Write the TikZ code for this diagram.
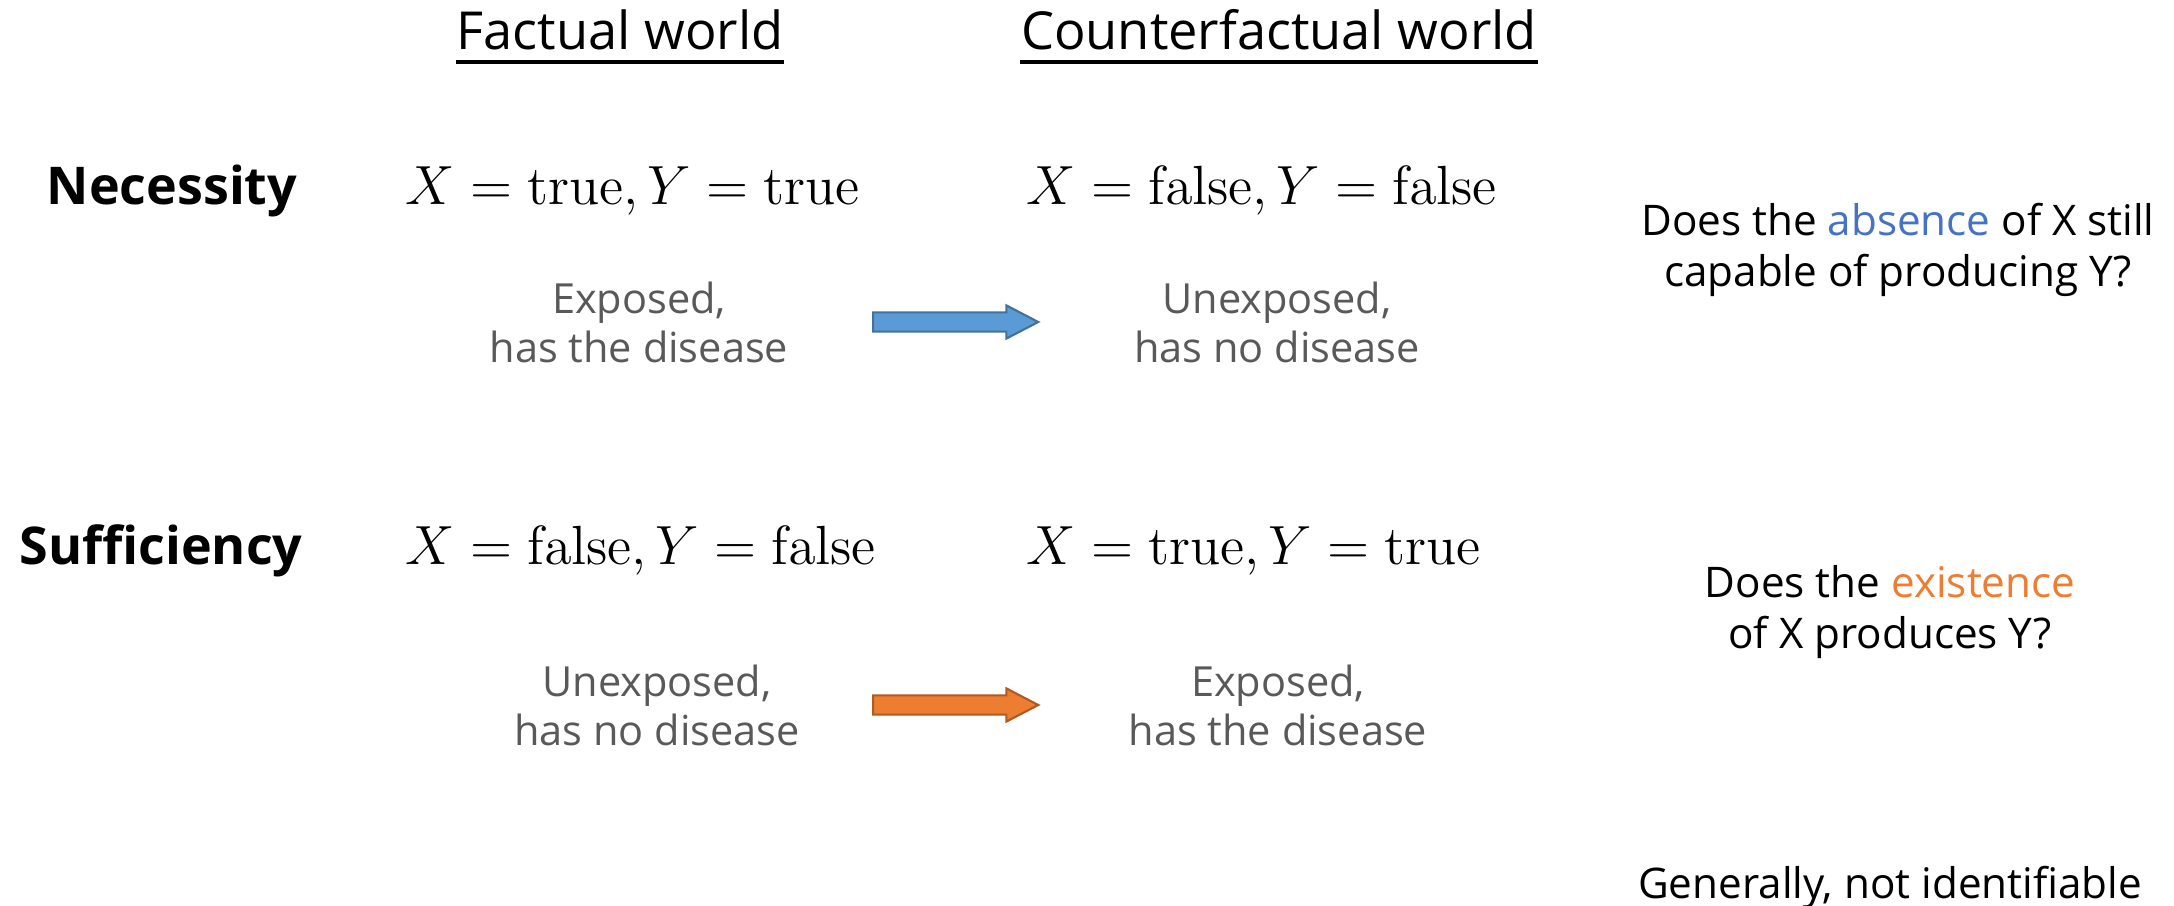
\RequirePackage{fix-cm}
\documentclass[tikz,border=0pt]{standalone}
\usepackage[no-math]{fontspec}
\setmainfont{Open Sans}
\usetikzlibrary{shapes.arrows,calc}
\definecolor{notegray}{HTML}{595959}
\definecolor{arrblue}{HTML}{5B9BD5}
\definecolor{arrblueline}{HTML}{41719C}
\definecolor{arrorange}{HTML}{ED7D31}
\definecolor{arrorangeline}{HTML}{AE5A21}
\definecolor{wordblue}{HTML}{4472C4}
\definecolor{wordorange}{HTML}{ED7D31}
\begin{document}
\begin{tikzpicture}[x=0.01cm, y=-0.01cm,
  header/.style={inner sep=0pt, anchor=base, font=\fontsize{14.9}{17}\selectfont},
  rowname/.style={inner sep=0pt, anchor=base, font=\bfseries\fontsize{14.8}{17}\selectfont},
  world/.style={inner sep=0pt, anchor=base west, font=\fontsize{15.7}{19}\selectfont},
  state/.style={inner sep=0pt, align=center, text=notegray, font=\fontsize{11.8}{13.9}\selectfont},
  question/.style={inner sep=0pt, align=center, font=\fontsize{12}{14.3}\selectfont},
  fatarrow/.style={single arrow, inner xsep=0pt, inner ysep=0.085cm, minimum height=1.65cm,
    minimum width=0.31cm, single arrow head extend=0.07cm, single arrow tip angle=55,
    line width=0.6pt, xshift=-0.03cm}]
\useasboundingbox (0,0) rectangle (2174,906);

% column headers
\node[header] (facthd) at (620,50) {Factual world};
\node[header] (cfhd) at (1279,50) {Counterfactual world};
\draw[line width=1.1pt] ([yshift=-0.12cm]facthd.base west) -- ([yshift=-0.12cm]facthd.base east);
\draw[line width=1.1pt] ([yshift=-0.12cm]cfhd.base west) -- ([yshift=-0.12cm]cfhd.base east);
\coordinate (colmid) at ($(facthd)!0.5!(cfhd)$);

% necessity row
\node[rowname] (nec) at (172,204) {Necessity};
\node[world] (necfactw) at (405,204) {$X=\mathrm{true},Y=\mathrm{true}$};
\node[world] (neccfw) at (1026,204) {$X=\mathrm{false},Y=\mathrm{false}$};
\node[state] (necfact) at (639,322) {Exposed,\\has the disease};
\node[state] (neccf) at (1277,322) {Unexposed,\\has no disease};
\node[fatarrow, fill=arrblue, draw=arrblueline] (necarrow) at (colmid |- necfact) {};
\node[question] (necq) at (1898,250) {Does the \textcolor{wordblue}{absence} of X still\\capable of producing Y?};

% sufficiency row
\node[rowname] (suf) at (161,564) {Sufficiency};
\node[world] (suffactw) at (405,564) {$X=\mathrm{false},Y=\mathrm{false}$};
\node[world] (sufcfw) at (1026,564) {$X=\mathrm{true},Y=\mathrm{true}$};
\node[state] (suffact) at (657,705) {Unexposed,\\has no disease};
\node[state] (sufcf) at (1278,705) {Exposed,\\has the disease};
\node[fatarrow, fill=arrorange, draw=arrorangeline] (sufarrow) at (colmid |- sufcf) {};
\node[question] (sufq) at (1890,612) {Does the \textcolor{wordorange}{existence}\\of X produces Y?};

\node[question, anchor=base] (ident) at (1890,898) {Generally, not identifiable};
\end{tikzpicture}
\end{document}
